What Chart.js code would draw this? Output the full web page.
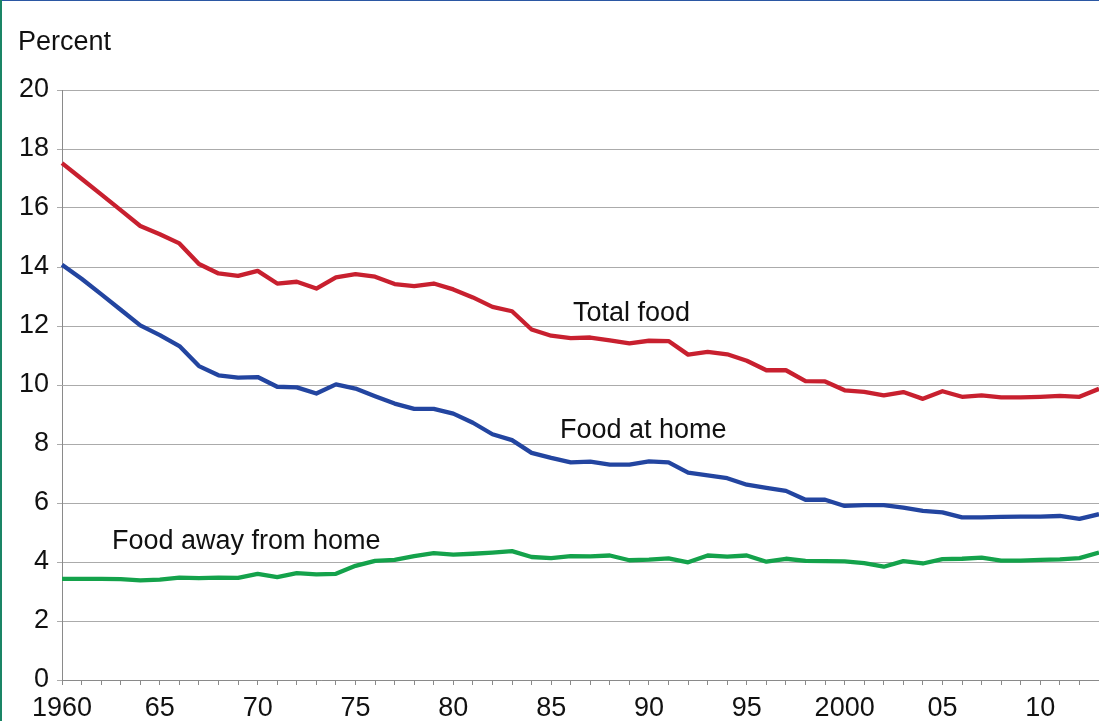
<!DOCTYPE html>
<html>
<head>
<meta charset="utf-8">
<script src="https://cdn.jsdelivr.net/npm/chart.js@4/dist/chart.umd.min.js"></script>
<style>
  html, body { margin: 0; padding: 0; background: #ffffff; }
  #wrap { position: relative; width: 1099px; height: 721px; overflow: hidden; }
  #c { display: block; }
  .edgeTop { position: absolute; left: 0; top: 0; width: 1099px; height: 1px; background: #2b57a3; }
  .edgeLeft { position: absolute; left: 0; top: 0; width: 2px; height: 721px; background: #1a8566; }
</style>
</head>
<body>
<div id="wrap">
  <canvas id="c" width="1099" height="721"></canvas>
  <div class="edgeTop"></div>
  <div class="edgeLeft"></div>
</div>
<script>
// ---- Data (share of disposable personal income spent on food, percent) ----
const years = [];
for (let y = 1960; y <= 2013; y++) years.push(y);

const totalFood = [
  17.52, 16.99, 16.46, 15.93, 15.39, 15.11, 14.80, 14.10, 13.78, 13.70,
  13.87, 13.44, 13.50, 13.27, 13.65, 13.76, 13.67, 13.42, 13.35, 13.44,
  13.24, 12.97, 12.65, 12.50, 11.88, 11.67, 11.59, 11.61, 11.51, 11.41,
  11.50, 11.49, 11.03, 11.12, 11.04, 10.82, 10.50, 10.50, 10.13, 10.12,
  9.82, 9.77, 9.65, 9.76, 9.53, 9.79, 9.60, 9.65, 9.58, 9.58,
  9.60, 9.63, 9.60, 9.87
];

const foodAtHome = [
  14.08, 13.60, 13.08, 12.55, 12.02, 11.69, 11.32, 10.64, 10.33, 10.25,
  10.27, 9.94, 9.92, 9.71, 10.02, 9.88, 9.62, 9.37, 9.19, 9.19,
  9.03, 8.72, 8.33, 8.13, 7.70, 7.53, 7.38, 7.40, 7.30, 7.30,
  7.41, 7.38, 7.03, 6.94, 6.84, 6.62, 6.51, 6.41, 6.11, 6.11,
  5.90, 5.93, 5.93, 5.84, 5.73, 5.68, 5.51, 5.51, 5.53, 5.54,
  5.54, 5.56, 5.46, 5.62
];

const foodAwayFromHome = [
  3.43, 3.43, 3.43, 3.42, 3.38, 3.40, 3.47, 3.45, 3.47, 3.46,
  3.60, 3.49, 3.62, 3.58, 3.60, 3.87, 4.04, 4.07, 4.20, 4.30,
  4.25, 4.28, 4.32, 4.37, 4.17, 4.13, 4.20, 4.19, 4.22, 4.06,
  4.08, 4.12, 3.99, 4.22, 4.18, 4.22, 4.01, 4.11, 4.04, 4.03,
  4.02, 3.96, 3.84, 4.03, 3.95, 4.10, 4.11, 4.15, 4.05, 4.05,
  4.07, 4.09, 4.13, 4.32
];

const tickYears = [1960, 1965, 1970, 1975, 1980, 1985, 1990, 1995, 2000, 2005, 2010];
const tickText  = ['1960', '65', '70', '75', '80', '85', '90', '95', '2000', '05', '10'];

const seriesNames = ['Total food', 'Food at home', 'Food away from home'];
const yAxisTitle = 'Percent';

// ---- Styles ----
const FONT = '"Liberation Sans", Arial, Helvetica, sans-serif';
const FSIZE = 27;
const colors = ['#c8202f', '#2345a0', '#14a24b'];

const textPlugin = {
  id: 'textLabels',
  afterDatasetsDraw(chart) {
    const ctx = chart.ctx;
    ctx.save();
    ctx.font = FSIZE + 'px ' + FONT;
    ctx.fillStyle = '#111111';
    ctx.textAlign = 'left';
    ctx.textBaseline = 'alphabetic';
    ctx.fillText(yAxisTitle, 18, 50);
    ctx.fillText(seriesNames[0], 573, 321);
    ctx.fillText(seriesNames[1], 560, 438);
    ctx.fillText(seriesNames[2], 112, 549);
    ctx.restore();
  }
};

new Chart(document.getElementById('c'), {
  type: 'line',
  data: {
    labels: years,
    datasets: [
      { label: seriesNames[0], data: totalFood, borderColor: colors[0] },
      { label: seriesNames[1], data: foodAtHome, borderColor: colors[1] },
      { label: seriesNames[2], data: foodAwayFromHome, borderColor: colors[2] }
    ].map(d => Object.assign(d, {
      borderWidth: 4.3, pointRadius: 0, tension: 0, fill: false,
      borderJoinStyle: 'round'
    }))
  },
  options: {
    responsive: false,
    animation: false,
    devicePixelRatio: 1,
    layout: { padding: { left: 0, right: 0, top: 90, bottom: 0 } },
    plugins: { legend: { display: false }, tooltip: { enabled: false }, title: { display: false } },
    scales: {
      x: {
        type: 'category',
        offset: false,
        grid: { display: true, drawOnChartArea: false, drawTicks: true, tickLength: 5, color: '#8a8a8a', lineWidth: 1 },
        border: { display: true, color: '#8a8a8a', width: 1 },
        ticks: {
          autoSkip: false, maxRotation: 0, minRotation: 0, padding: 7,
          color: '#111111', font: { family: FONT, size: FSIZE },
          callback: function (value, index) {
            const k = tickYears.indexOf(years[index]);
            return k >= 0 ? tickText[k] : '';
          }
        },
        afterFit(scale) {
          scale.height = 41;
          scale.paddingRight = 0;
          scale.paddingLeft = 0;
        }
      },
      y: {
        min: 0, max: 20,
        grid: { color: '#ababab', lineWidth: 1, tickLength: 5, drawTicks: true },
        border: { display: true, color: '#8a8a8a', width: 1 },
        ticks: {
          stepSize: 2, padding: 8, color: '#111111',
          font: { family: FONT, size: FSIZE }
        },
        afterFit(scale) { scale.width = 62; }
      }
    }
  },
  plugins: [textPlugin]
});
</script>
</body>
</html>
